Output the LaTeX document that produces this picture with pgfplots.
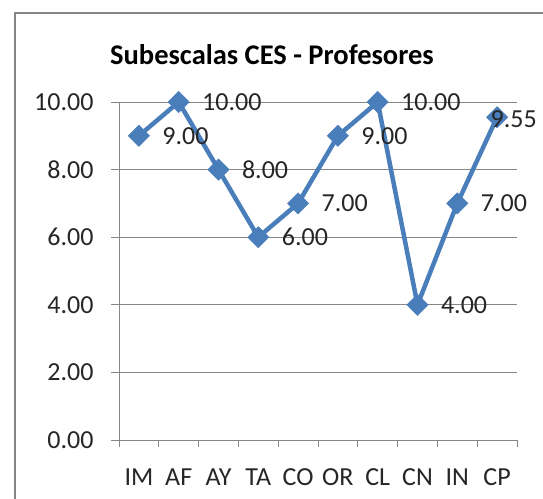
\documentclass[border=0pt]{standalone}
\usepackage{pgfplots}
\pgfplotsset{compat=1.18}
\usepackage{fontspec}
\setmainfont{Carlito}
\definecolor{serie}{HTML}{4A7EBB}
\definecolor{gridc}{HTML}{868686}
\begin{document}
\begin{tikzpicture}[x=1pt,y=1pt]
\draw[gridc,line width=2pt] (15,-20) rectangle (600,485);
\node[font=\fontsize{28.5}{32}\selectfont\bfseries] at (272,443) {Subescalas CES - Profesores};
\begin{axis}[
  at={(119pt,58pt)}, anchor=south west,
  scale only axis, width=398pt, height=338pt,
  xmin=-0.5, xmax=9.5, ymin=0, ymax=10,
  axis lines*=left,
  axis line style={gridc, line width=0.8pt},
  xtick={0,...,9},
  xticklabels={IM,AF,AY,TA,CO,OR,CL,CN,IN,CP},
  minor xtick={-0.5,0.5,...,9.5},
  major x tick style={draw=none},
  minor x tick style={gridc, line width=0.8pt},
  minor tick length=7pt,
  ytick={0,2,...,10},
  ymajorgrids,
  grid style={gridc, line width=0.8pt},
  y tick style={gridc, line width=0.8pt},
  major tick length=8pt,
  tick align=outside,
  /pgf/number format/assume math mode=true,
  yticklabel={\pgfmathprintnumber[fixed,fixed zerofill,precision=2]{\tick}},
  ticklabel style={font=\fontsize{26}{30}\selectfont, text=black!85},
  xticklabel style={yshift=-17pt},
  yticklabel style={xshift=-14pt},
  clip=false,
]
\addplot[serie, line width=4.5pt, mark=square*, mark size=7.5pt,
  mark options={rotate=45, fill=serie, draw=serie, line width=0.5pt}]
  coordinates {(0,9) (1,10) (2,8) (3,6) (4,7) (5,9) (6,10) (7,4) (8,7) (9,9.55)};
\addplot[draw=none, mark=none,
  nodes near coords={\pgfmathprintnumber[fixed,fixed zerofill,precision=2]{\pgfplotspointmeta}},
  nodes near coords style={anchor=west, xshift=20pt, font=\fontsize{26}{30}\selectfont, text=black!85}]
  coordinates {(0,9) (1,10) (2,8) (3,6) (4,7) (5,9) (6,10) (7,4) (8,7)};
\addplot[draw=none, mark=none,
  nodes near coords={\pgfmathprintnumber[fixed,fixed zerofill,precision=2]{\pgfplotspointmeta}},
  nodes near coords style={anchor=west, xshift=-10pt, yshift=-2pt, font=\fontsize{26}{30}\selectfont, text=black!85}]
  coordinates {(9,9.55)};
\end{axis}
\pgfresetboundingbox
\path[use as bounding box] (0,0) rectangle (543,498);
\end{tikzpicture}
\end{document}
